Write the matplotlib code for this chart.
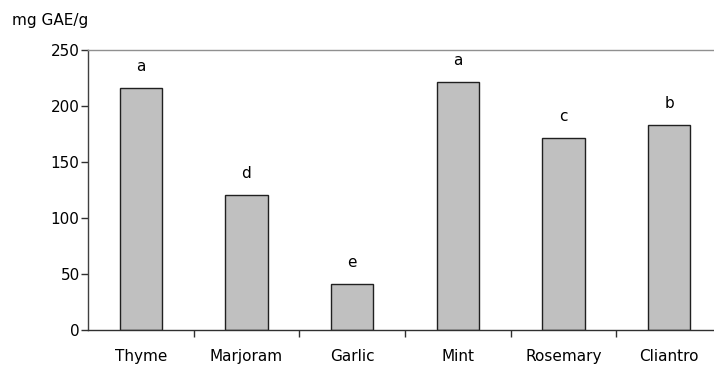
import numpy as np
import matplotlib
matplotlib.use('Agg')
from matplotlib import pyplot as plt

herbs = ['Thyme', 'Marjoram', 'Garlic', 'Mint', 'Rosemary', 'Cliantro']
gae = [216, 120, 41, 221, 171, 183]
letters = ['a', 'd', 'e', 'a', 'c', 'b']

plt.rcParams['font.family'] = ['DejaVu Sans']
fs = 11

fig = plt.figure(figsize=(7.14, 3.66), dpi=100)
# axes run a little past the right edge so the last category is full width
ax = fig.add_axes([88/714, 1-330/366, 634/714, (330-49.5)/366])

x = np.arange(len(herbs))
ax.bar(x, gae, width=0.4, color='#c0c0c0', edgecolor='#202020', linewidth=1.0)
for xi, v, s in zip(x, gae, letters):
    ax.annotate(s, (xi, v), xytext=(0, 12.2), textcoords='offset points',
                ha='center', va='baseline', fontsize=fs)

ax.set_xlim(-0.5, len(herbs) - 0.5)
ax.set_ylim(0, 250)
ax.set_yticks(range(0, 251, 50))
ax.set_xticks(x)
ax.set_xticklabels(herbs)
ax.set_xticks(np.arange(0.5, len(herbs) - 0.5), minor=True)
ax.tick_params(axis='x', which='major', length=0, pad=14, labelsize=fs)
ax.tick_params(axis='x', which='minor', length=5, width=1, color='#303030', direction='out')
ax.tick_params(axis='y', length=5, width=1, color='#303030', pad=1, labelsize=fs)

ax.spines['right'].set_visible(False)
ax.spines['top'].set_color('#909090')
ax.spines['left'].set_color('#404040')
ax.spines['bottom'].set_color('#303030')
for sp in ax.spines.values():
    sp.set_linewidth(1.0)

fig.text(12/714, 1-20/366, 'mg GAE/g', ha='left', va='center', fontsize=fs)

plt.savefig('out.png', dpi=100)
